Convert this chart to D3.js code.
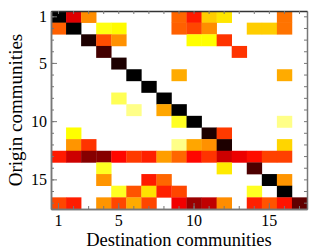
<!DOCTYPE html>
<html><head><meta charset="utf-8">
<script src="https://cdn.jsdelivr.net/npm/d3@7"></script>
<style>
body{margin:0;background:#fff}
svg{display:block}
text{font-family:"Liberation Serif","Times New Roman",serif;fill:#000}
</style>
</head><body>
<svg width="332" height="250"></svg>
<script>
// Community indices (rows = origin, columns = destination)
const communities = d3.range(1, 18);
const tickLabels = [1, 5, 10, 15];

// Relative flow intensity, 0 = none (white), 1 = maximum (black)
const row01 = [1.00, 0.75, 0.42, 0, 0, 0, 0, 0, 0.49, 0.62, 0.27, 0.21, 0, 0, 0, 0.47, 0];
const row02 = [0.50, 1.00, 0, 0.14, 0.16, 0, 0, 0, 0.50, 0.54, 0.42, 0, 0, 0.27, 0.27, 0.47, 0];
const row03 = [0, 0, 0.97, 0.53, 0.41, 0, 0, 0, 0, 0.15, 0.15, 0.57, 0, 0, 0, 0, 0];
const row04 = [0, 0, 0, 0.93, 0, 0, 0, 0, 0, 0, 0, 0, 0.57, 0, 0, 0, 0];
const row05 = [0, 0, 0, 0, 0.97, 0, 0, 0, 0, 0, 0, 0, 0, 0, 0, 0, 0];
const row06 = [0, 0, 0, 0, 0, 1.00, 0, 0, 0.35, 0, 0, 0, 0, 0, 0, 0.35, 0];
const row07 = [0, 0, 0, 0, 0, 0, 1.00, 0, 0, 0, 0, 0, 0, 0, 0, 0, 0];
const row08 = [0, 0, 0, 0, 0.10, 0, 0, 1.00, 0, 0, 0, 0, 0, 0, 0, 0, 0];
const row09 = [0, 0, 0, 0, 0, 0.07, 0, 0.36, 1.00, 0, 0, 0, 0, 0, 0, 0, 0];
const row10 = [0, 0, 0, 0, 0, 0, 0, 0, 0.13, 1.00, 0, 0, 0, 0, 0, 0.07, 0];
const row11 = [0, 0.15, 0, 0, 0, 0, 0, 0, 0, 0, 0.97, 0.56, 0, 0, 0, 0, 0];
const row12 = [0, 0.40, 0.57, 0, 0, 0, 0, 0, 0.07, 0.36, 0.41, 0.97, 0, 0, 0, 0.25, 0];
const row13 = [0.62, 0.78, 0.86, 0.86, 0.68, 0.56, 0.60, 0.38, 0.49, 0.68, 0.57, 0.78, 0.73, 0.66, 0.55, 0.55, 0];
const row14 = [0, 0, 0, 0.13, 0, 0, 0, 0, 0, 0, 0, 0.20, 0, 0.92, 0, 0, 0];
const row15 = [0, 0, 0, 0.40, 0, 0, 0.62, 0.49, 0, 0, 0, 0, 0, 0, 1.00, 0.40, 0];
const row16 = [0, 0, 0, 0, 0.13, 0.52, 0.22, 0.60, 0.54, 0, 0, 0, 0, 0.13, 0, 1.00, 0];
const row17 = [0.54, 0.61, 0, 0.40, 0.54, 0.35, 0.54, 0, 0.72, 0.84, 0.80, 0.42, 0, 0.60, 0.52, 0.64, 0.90];
const matrix = [row01,row02,row03,row04,row05,row06,row07,row08,row09,row10,row11,row12,row13,row14,row15,row16,row17];

// Reversed "hot" colour map
const colorStops = [0, 0.15, 0.30, 0.45, 0.60, 0.70, 0.80, 0.90, 1.0];
const colorRange = ["#ffffff","#ffff00","#ffc000","#ff8000","#ff2000","#ff0000","#c00000","#600000","#000000"];

const margin = {left: 51, top: 11, right: 25, bottom: 41};
const W = 332, H = 250;
const iw = W - margin.left - margin.right;
const ih = H - margin.top - margin.bottom;

const svg = d3.select("svg");
const g = svg.append("g").attr("transform", `translate(${margin.left},${margin.top})`);

const x = d3.scaleBand().domain(communities).range([0, iw]).padding(0);
const y = d3.scaleBand().domain(communities).range([0, ih]).padding(0);
const color = d3.scaleLinear().domain(colorStops).range(colorRange).interpolate(d3.interpolateRgb);

const cells = [];
matrix.forEach((row, i) => row.forEach((v, j) => {
  if (v > 0) cells.push({o: communities[i], d: communities[j], v});
}));

g.selectAll("rect.cell").data(cells).join("rect")
  .attr("class", "cell")
  .attr("x", d => x(d.d))
  .attr("y", d => y(d.o))
  .attr("width", x.bandwidth() + 0.3)
  .attr("height", y.bandwidth() + 0.3)
  .attr("fill", d => color(d.v));

const axisColor = "#777";
function styleAxis(sel, labels) {
  sel.select(".domain").attr("stroke", axisColor).attr("stroke-width", 1.5);
  sel.selectAll(".tick line").attr("stroke", axisColor).attr("stroke-width", 1);
  sel.selectAll(".tick text").attr("font-size", labels ? 16 : 0)
     .style("font-family", '"Liberation Serif","Times New Roman",serif').attr("fill", "#000");
}

// Minor ticks (every community)
g.append("g").call(d3.axisLeft(y).tickValues(communities).tickSizeInner(-3).tickSizeOuter(0).tickFormat(""))
  .call(s => styleAxis(s, false));
g.append("g").attr("transform", `translate(${iw},0)`)
  .call(d3.axisRight(y).tickValues(communities).tickSizeInner(-3).tickSizeOuter(0).tickFormat(""))
  .call(s => styleAxis(s, false));
g.append("g").attr("transform", `translate(0,${ih})`)
  .call(d3.axisBottom(x).tickValues(communities).tickSizeInner(-3).tickSizeOuter(0).tickFormat(""))
  .call(s => styleAxis(s, false));
g.append("g")
  .call(d3.axisTop(x).tickValues(communities).tickSizeInner(-3).tickSizeOuter(0).tickFormat(""))
  .call(s => { styleAxis(s, false); s.select(".domain").attr("stroke", "#333"); });

// Major ticks with labels
g.append("g").call(d3.axisLeft(y).tickValues(tickLabels).tickSizeInner(-6).tickSizeOuter(0).tickPadding(4))
  .call(s => styleAxis(s, true));
g.append("g").attr("transform", `translate(0,${ih})`)
  .call(d3.axisBottom(x).tickValues(tickLabels).tickSizeInner(-6).tickSizeOuter(0).tickPadding(6))
  .call(s => styleAxis(s, true));

// Axis titles
svg.append("text")
  .attr("x", margin.left + iw / 2).attr("y", 246)
  .attr("text-anchor", "middle").attr("font-size", 18.5)
  .text("Destination communities");
svg.append("text")
  .attr("transform", `translate(22,${margin.top + ih / 2}) rotate(-90)`)
  .attr("text-anchor", "middle").attr("font-size", 19)
  .text("Origin communities");
</script>
</body></html>
